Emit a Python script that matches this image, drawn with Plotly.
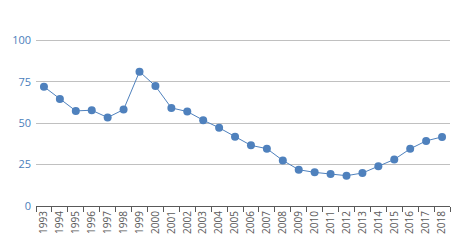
import plotly.graph_objects as go

years = [str(y) for y in range(1993, 2019)]
values = [72.0, 64.6, 57.4, 57.8, 53.4, 58.2, 81.1, 72.4, 59.2, 57.0, 51.8, 47.2,
          41.8, 36.6, 34.6, 27.5, 21.9, 20.3, 19.3, 18.3, 19.9, 24.0, 28.1, 34.5, 39.3, 41.7]
y_ticks = [0, 25, 50, 75, 100]

fig = go.Figure(go.Scatter(
    x=years, y=values, mode="lines+markers",
    line=dict(color="#4f81bd", width=1),
    marker=dict(color="#4f81bd", size=8),
    cliponaxis=False,
))

# page body has an 8px default margin; size the figure to fit the 460x250 window
fig.update_layout(
    width=452, height=242,
    margin=dict(l=28, r=10, t=29, b=44),
    plot_bgcolor="white", paper_bgcolor="white",
    showlegend=False,
    font=dict(family="Open Sans", size=11),
)
fig.update_xaxes(
    type="category", range=[-0.5, len(years) - 0.5],
    tickson="boundaries", ticks="outside", ticklen=5,
    tickcolor="#595959", showline=True, linecolor="#595959", linewidth=1,
    showgrid=False, tickangle=-90, tickfont=dict(color="#595959", size=10),
    automargin=False,
)
fig.update_yaxes(
    range=[0, 102], tickvals=y_ticks, showgrid=True, gridcolor="#c0c0c0",
    gridwidth=1, zeroline=False, showline=False, ticks="",
    tickfont=dict(color="#4a7ebb", size=11), ticklabelstandoff=4,
    automargin=False,
)

fig.write_html("out.html")
